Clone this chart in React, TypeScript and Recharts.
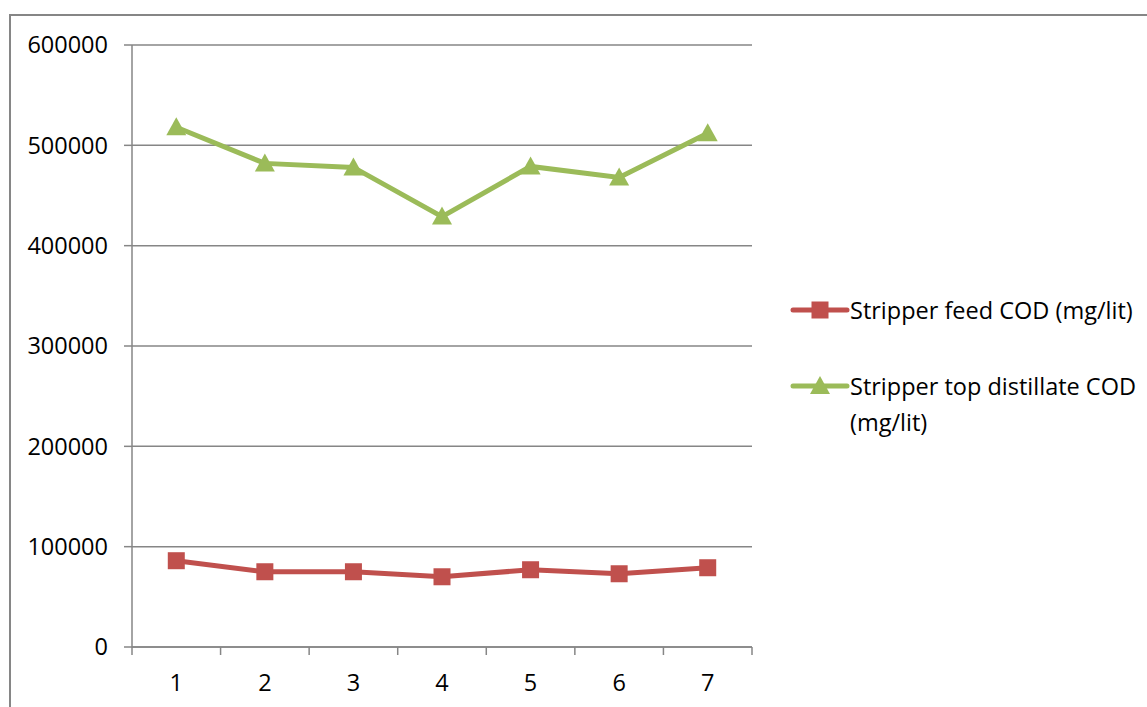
import React from 'react';
import { LineChart, Line, XAxis, YAxis, CartesianGrid } from 'recharts';

const runs = [1, 2, 3, 4, 5, 6, 7];
const feedCod = [86000, 75000, 75000, 70000, 77000, 73000, 79000];
const topDistillateCod = [518000, 482000, 478000, 429000, 479000, 468000, 512000];
const yTicks = [0, 100000, 200000, 300000, 400000, 500000, 600000];

const FEED_NAME = 'Stripper feed COD (mg/lit)';
const TOP_NAME = 'Stripper top distillate COD (mg/lit)';
const RED = '#C0504D';
const GREEN = '#9BBB59';
const GRID = '#868686';
const FONT = '"Open Sans", sans-serif';
const FS = 23.5;

const W = 1147;
const H = 707;
const PLOT_LEFT = 132;
const PLOT_RIGHT = 752;
const BAND = (PLOT_RIGHT - PLOT_LEFT) / runs.length;

const data = runs.map((r, i) => ({ run: r, feed: feedCod[i], top: topDistillateCod[i] }));

// square marker for the feed series
const SquareDot = (p: any) => (
  <rect key={`sq-${p.index}`} x={p.cx - 8.5} y={p.cy - 8.5} width={17} height={17} fill={RED} />
);

// triangle marker for the distillate series
const TriangleDot = (p: any) => (
  <polygon
    key={`tri-${p.index}`}
    points={`${p.cx},${p.cy - 10} ${p.cx + 10},${p.cy + 8} ${p.cx - 10},${p.cy + 8}`}
    fill={GREEN}
  />
);

// x labels sit in the middle of each category, tick marks on the boundaries
const XTick = (p: any) => {
  const { x, y, payload, index } = p;
  const left = x - BAND / 2;
  const right = x + BAND / 2;
  return (
    <g>
      <line x1={left} y1={y} x2={left} y2={y + 8} stroke={GRID} strokeWidth={1.5} />
      {index === runs.length - 1 && (
        <line x1={right} y1={y} x2={right} y2={y + 8} stroke={GRID} strokeWidth={1.5} />
      )}
      <text x={x} y={y + 44} textAnchor="middle" fontSize={FS} fontFamily={FONT} fill="#000">
        {payload.value}
      </text>
    </g>
  );
};

const LegendBox = () => (
  <div style={{ fontFamily: FONT, fontSize: FS, color: '#000', lineHeight: '36px' }}>
    <div style={{ display: 'flex', alignItems: 'flex-start' }}>
      <svg width={60} height={36} style={{ flex: 'none' }}>
        <line x1={3} y1={18} x2={57} y2={18} stroke={RED} strokeWidth={5} strokeLinecap="round" />
        <rect x={21.5} y={9.5} width={17} height={17} fill={RED} />
      </svg>
      <span style={{ whiteSpace: 'nowrap' }}>{FEED_NAME}</span>
    </div>
    <div style={{ display: 'flex', alignItems: 'flex-start', marginTop: 40 }}>
      <svg width={60} height={36} style={{ flex: 'none' }}>
        <line x1={3} y1={18} x2={57} y2={18} stroke={GREEN} strokeWidth={5} strokeLinecap="round" />
        <polygon points="30,8 40,26 20,26" fill={GREEN} />
      </svg>
      <span style={{ width: 300 }}>{TOP_NAME}</span>
    </div>
  </div>
);

export default function App() {
  return (
    <div style={{ position: 'absolute', left: 0, top: 0, width: W, height: H, overflow: 'hidden', background: '#fff' }}>
      <div
        style={{
          position: 'absolute',
          left: 9,
          top: 14,
          width: W + 20,
          height: H + 20,
          border: `2px solid ${GRID}`,
          boxSizing: 'border-box',
        }}
      />
      <div style={{ position: 'absolute', left: 0, top: 0 }}>
        <LineChart width={W} height={H} data={data} margin={{ top: 45, right: W - PLOT_RIGHT, bottom: 0, left: 0 }}>
          <CartesianGrid vertical={false} stroke={GRID} strokeWidth={1.5} />
          <XAxis
            dataKey="run"
            type="number"
            domain={[0.5, 7.5]}
            ticks={runs}
            height={60}
            stroke={GRID}
            strokeWidth={1.5}
            tickLine={false}
            tickSize={0}
            tickMargin={0}
            tick={<XTick />}
            interval={0}
          />
          <YAxis
            width={PLOT_LEFT}
            domain={[0, 600000]}
            ticks={yTicks}
            stroke={GRID}
            strokeWidth={1.5}
            tickSize={8}
            tickMargin={16}
            tick={{ fill: '#000', fontSize: FS, fontFamily: FONT }}
          />
          <Line
            name={FEED_NAME}
            dataKey="feed"
            stroke={RED}
            strokeWidth={5}
            dot={SquareDot}
            activeDot={false}
            isAnimationActive={false}
          />
          <Line
            name={TOP_NAME}
            dataKey="top"
            stroke={GREEN}
            strokeWidth={5}
            dot={TriangleDot}
            activeDot={false}
            isAnimationActive={false}
          />
        </LineChart>
      </div>
      <div style={{ position: 'absolute', left: 790, top: 292 }}>
        <LegendBox />
      </div>
    </div>
  );
}
